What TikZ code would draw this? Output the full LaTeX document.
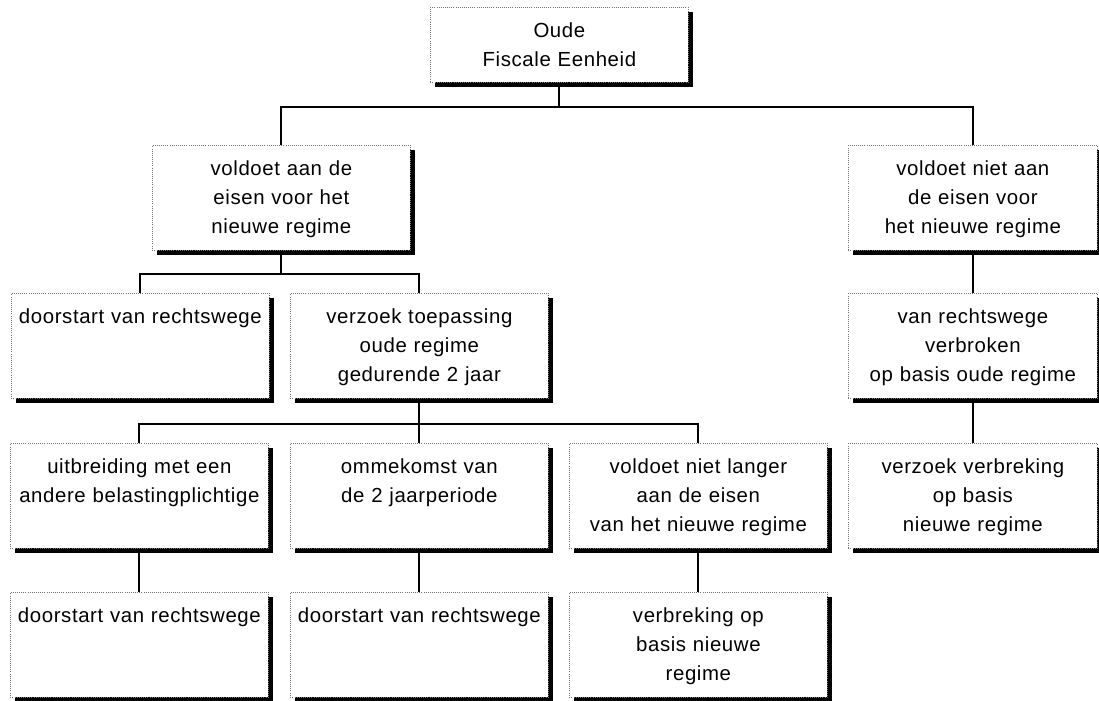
\documentclass[tikz,border=0pt]{standalone}
\usepackage{fontspec}
\setmainfont{Liberation Sans}[LetterSpace=3]
\usetikzlibrary{shadows}

\begin{document}
\begin{tikzpicture}[x=0.025cm, y=-0.025cm,
  blok/.style={draw=black!55, densely dotted, line width=0.5pt, fill=white,
    drop shadow={shadow xshift=0.12cm, shadow yshift=-0.12cm, fill=black, opacity=1},
    anchor=north west, inner sep=0pt, text width=6.45cm, align=center,
    text height=0.75cm, text depth=1.875cm,
    font=\fontsize{14.5pt}{0.725cm}\selectfont},
  smal/.style={text width=6.225cm},
  lijn/.style={line width=1.5pt}]
\useasboundingbox (0,0) rectangle (1099,700);
\node[blok, text depth=1.125cm] (wortel) at (430,7) {Oude\\Fiscale Eenheid};
\node[blok] (eisen) at (152,145) {voldoet aan de\\eisen voor het\\nieuwe regime};
\node[blok, smal] (nieteisen) at (848,145) {voldoet niet aan\\de eisen voor\\het nieuwe regime};
\node[blok] (doorstart) at (11,293) {doorstart van rechtswege};
\node[blok] (verzoek) at (290,293) {verzoek toepassing\\oude regime\\gedurende 2 jaar};
\node[blok, smal] (verbroken) at (848,293) {van rechtswege\\verbroken\\op basis oude regime};
\node[blok] (uitbreiding) at (10,443) {uitbreiding met een\\andere belastingplichtige};
\node[blok] (ommekomst) at (290,443) {ommekomst van\\de 2 jaarperiode};
\node[blok] (nietlanger) at (569,443) {voldoet niet langer\\aan de eisen\\van het nieuwe regime};
\node[blok, smal] (verzoekverbr) at (848,443) {verzoek verbreking\\op basis\\nieuwe regime};
\node[blok] (doorstart2) at (10,592) {doorstart van rechtswege};
\node[blok] (doorstart3) at (290,592) {doorstart van rechtswege};
\node[blok] (verbreking) at (569,592) {verbreking op\\basis nieuwe\\regime};
% verbindingen
\draw[lijn] (wortel.south) -- ++(0,24) coordinate (tak1);
\draw[lijn] (eisen.north) |- (tak1) -| (nieteisen.north);
\draw[lijn] (eisen.south) -- ++(0,23) coordinate (tak2);
\draw[lijn] (doorstart.north) |- (tak2) -| (verzoek.north);
\draw[lijn] (verzoek.south) -- ++(0,25) coordinate (tak3);
\draw[lijn] (uitbreiding.north) |- (tak3) -| (nietlanger.north);
\draw[lijn] (tak3) -- (ommekomst.north);
\draw[lijn] (uitbreiding.south) -- (doorstart2.north);
\draw[lijn] (ommekomst.south) -- (doorstart3.north);
\draw[lijn] (nietlanger.south) -- (verbreking.north);
\draw[lijn] (nieteisen.south) -- (verbroken.north);
\draw[lijn] (verbroken.south) -- (verzoekverbr.north);
\end{tikzpicture}
\end{document}
